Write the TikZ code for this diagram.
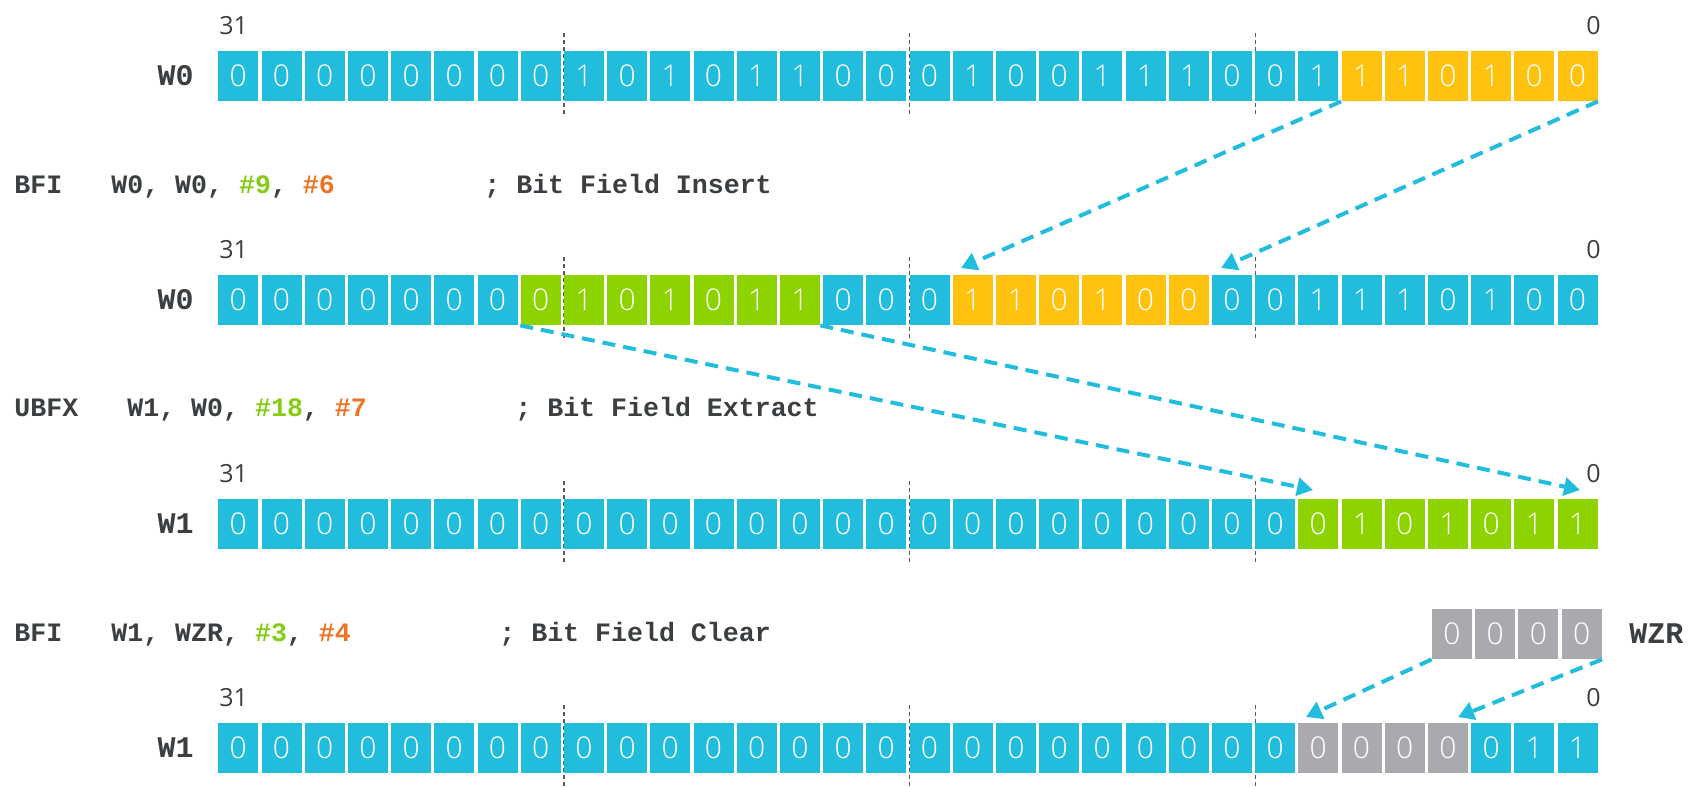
\documentclass[tikz,border=0pt]{standalone}
\usepackage{fontspec}
\setmainfont{Open Sans}
\newfontfamily\digitfont{Open Sans Light}
\newfontfamily\codefont{Liberation Mono}
\usetikzlibrary{arrows.meta}
\definecolor{cy}{HTML}{22BDDC}
\definecolor{yl}{HTML}{FFC20E}
\definecolor{gr}{HTML}{8DD300}
\definecolor{gy}{HTML}{A8AAAD}
\definecolor{tx}{HTML}{3B3F42}
\definecolor{grt}{HTML}{84CC16}
\definecolor{ort}{HTML}{ED7422}
\tikzset{
 cell/.style={rectangle, minimum width=20pt, minimum height=25pt, inner sep=0pt, text=white, font=\digitfont\fontsize{15}{17}\selectfont},
 code/.style={anchor=base west, inner sep=0pt, text=tx, font=\codefont\bfseries\fontsize{13.3}{15}\selectfont},
 reg/.style={anchor=east, inner sep=0pt, text=tx, font=\codefont\bfseries\fontsize{15}{17}\selectfont},
 idx/.style={inner sep=0pt, text=tx, font=\fontsize{12.5}{14}\selectfont},
 move/.style={draw=cy, line width=2pt, dash pattern=on 6.5pt off 4pt, -{Triangle[length=8pt,width=9pt]}},
 sep/.style={draw=tx!85, line width=0.6pt, dash pattern=on 2pt off 1.5pt},
}
\def\rowA{0/cy,0/cy,0/cy,0/cy,0/cy,0/cy,0/cy,0/cy,1/cy,0/cy,1/cy,0/cy,1/cy,1/cy,0/cy,0/cy,0/cy,1/cy,0/cy,0/cy,1/cy,1/cy,1/cy,0/cy,0/cy,1/cy,1/yl,1/yl,0/yl,1/yl,0/yl,0/yl}
\def\rowB{0/cy,0/cy,0/cy,0/cy,0/cy,0/cy,0/cy,0/gr,1/gr,0/gr,1/gr,0/gr,1/gr,1/gr,0/cy,0/cy,0/cy,1/yl,1/yl,0/yl,1/yl,0/yl,0/yl,0/cy,0/cy,1/cy,1/cy,1/cy,0/cy,1/cy,0/cy,0/cy}
\def\rowC{0/cy,0/cy,0/cy,0/cy,0/cy,0/cy,0/cy,0/cy,0/cy,0/cy,0/cy,0/cy,0/cy,0/cy,0/cy,0/cy,0/cy,0/cy,0/cy,0/cy,0/cy,0/cy,0/cy,0/cy,0/cy,0/gr,1/gr,0/gr,1/gr,0/gr,1/gr,1/gr}
\def\rowD{0/cy,0/cy,0/cy,0/cy,0/cy,0/cy,0/cy,0/cy,0/cy,0/cy,0/cy,0/cy,0/cy,0/cy,0/cy,0/cy,0/cy,0/cy,0/cy,0/cy,0/cy,0/cy,0/cy,0/cy,0/cy,0/gy,0/gy,0/gy,0/gy,0/cy,1/cy,1/cy}
\begin{document}
\begin{tikzpicture}[x=0.5pt,y=-0.5pt]
\useasboundingbox (0,0) rectangle (1705,787);
% separators
\foreach \t in {51,275,499,723}{
  \foreach \sx in {563.9,909.5,1255.1}{
    \draw[sep] (\sx,\t-18) -- (\sx,\t+66);
  }
}
% register rows
\foreach \d/\c [count=\i from 0] in \rowA {\node[cell, fill=\c] (r1c\i) at ({238.3+43.2*\i},76) {\d};}
\foreach \d/\c [count=\i from 0] in \rowB {\node[cell, fill=\c] (r2c\i) at ({238.3+43.2*\i},300) {\d};}
\foreach \d/\c [count=\i from 0] in \rowC {\node[cell, fill=\c] (r3c\i) at ({238.3+43.2*\i},524) {\d};}
\foreach \d/\c [count=\i from 0] in \rowD {\node[cell, fill=\c] (r4c\i) at ({238.3+43.2*\i},748) {\d};}
\foreach \i in {0,...,3} {\node[cell, fill=gy] (wz\i) at ({1452+43.2*\i},634) {0};}
% register names
\node[reg] (n1) at (194,76) {W0};
\node[reg] (n2) at (194,300) {W0};
\node[reg] (n3) at (194,524) {W1};
\node[reg] (n4) at (194,748) {W1};
\node[reg, anchor=west] (wzr) at (1629,634) {WZR};
% bit indices
\foreach \r/\b in {1/34,2/258,3/482,4/706}{
  \node[idx, anchor=base west] (hi\r) at (219,\b) {31};
  \node[idx, anchor=base east] (lo\r) at (1601,\b) {0};
}
% instructions
\node[code] (i1a) at (14,193) {BFI};
\node[code] (i1b) at (111,193) {W0, W0, \textcolor{grt}{\#9}, \textcolor{ort}{\#6}};
\node[code] (i1c) at (484,193) {; Bit Field Insert};
\node[code] (i3a) at (14,416) {UBFX};
\node[code] (i3b) at (127,416) {W1, W0, \textcolor{grt}{\#18}, \textcolor{ort}{\#7}};
\node[code] (i3c) at (515,416) {; Bit Field Extract};
\node[code] (i4a) at (14,641) {BFI};
\node[code] (i4b) at (111,641) {W1, WZR, \textcolor{grt}{\#3}, \textcolor{ort}{\#4}};
\node[code] (i4c) at (499,641) {; Bit Field Clear};
% arrow ends
\coordinate (e1) at (961,268);
\coordinate (e2) at (1221,268);
\coordinate (e3) at (1313,490);
\coordinate (e4) at (1580,490);
\coordinate (e5) at (1306,717);
\coordinate (e6) at (1458,717);
\draw[move] (r1c26.south west) -- (e1);
\draw[move] (r1c31.south east) -- (e2);
\draw[move] (r2c7.south west) -- (e3);
\draw[move] (r2c13.south east) -- (e4);
\draw[move] (wz0.south west) -- (e5);
\draw[move] (wz3.south east) -- (e6);
\end{tikzpicture}
\end{document}
